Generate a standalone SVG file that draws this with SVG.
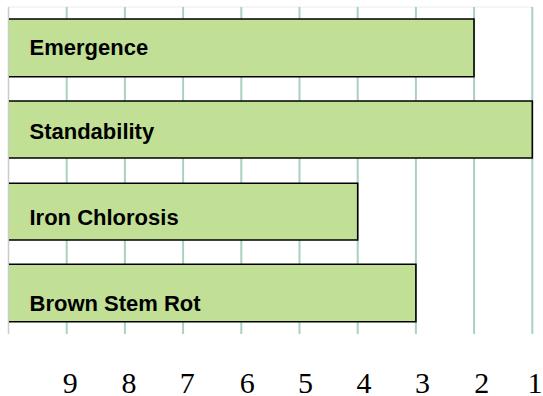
<svg xmlns="http://www.w3.org/2000/svg" width="543" height="396" viewBox="0 0 543 396">
<style>
.grid{stroke:#a9d2bd;stroke-width:2;fill:none}
.bar{fill:#c1e096}
.edge{fill:none;stroke:#000;stroke-width:1.6}
.lbl{font-family:"Liberation Sans",Arial,sans-serif;font-weight:bold;font-size:22px;fill:#000}
.num{font-family:"Liberation Serif","Times New Roman",serif;font-size:30px;fill:#000;text-anchor:middle}
</style>
<rect width="543" height="396" fill="#fff"/>
<g id="grid">
<line x1="8.5" y1="7" x2="533" y2="7" stroke="#e6efea" stroke-width="1"/>
<line x1="8.5" y1="7" x2="8.5" y2="334" stroke="#c8cccb" stroke-width="1.5"/>
<line class="grid" x1="66.7" y1="7" x2="66.7" y2="334"/>
<line class="grid" x1="124.9" y1="7" x2="124.9" y2="334"/>
<line class="grid" x1="183.1" y1="7" x2="183.1" y2="334"/>
<line class="grid" x1="241.3" y1="7" x2="241.3" y2="334"/>
<line class="grid" x1="299.5" y1="7" x2="299.5" y2="334"/>
<line class="grid" x1="357.7" y1="7" x2="357.7" y2="334"/>
<line class="grid" x1="415.9" y1="7" x2="415.9" y2="334"/>
<line class="grid" x1="474.1" y1="7" x2="474.1" y2="334"/>
<line class="grid" x1="532.3" y1="7" x2="532.3" y2="334"/>
</g>
<g id="bar-emergence">
<rect class="bar" x="9" y="19" width="465" height="57.7"/>
<polyline class="edge" points="9,19 474,19 474,76.7 9,76.7"/>
<text class="lbl" x="29.5" y="54.5">Emergence</text>
</g>
<g id="bar-standability">
<rect class="bar" x="9" y="101" width="523.3" height="57"/>
<polyline class="edge" points="9,101 532.3,101 532.3,158 9,158"/>
<text class="lbl" x="29.5" y="139">Standability</text>
</g>
<g id="bar-iron-chlorosis">
<rect class="bar" x="9" y="183.3" width="348.7" height="56.7"/>
<polyline class="edge" points="9,183.3 357.7,183.3 357.7,240 9,240"/>
<text class="lbl" x="29.5" y="225">Iron Chlorosis</text>
</g>
<g id="bar-brown-stem-rot">
<rect class="bar" x="9" y="264.3" width="406.9" height="57.4"/>
<polyline class="edge" points="9,264.3 415.9,264.3 415.9,321.7 9,321.7"/>
<text class="lbl" x="29.5" y="310.7">Brown Stem Rot</text>
</g>
<g id="axis-labels">
<text class="num" x="70.2" y="393">9</text>
<text class="num" x="129" y="393">8</text>
<text class="num" x="187.2" y="393">7</text>
<text class="num" x="247.2" y="393">6</text>
<text class="num" x="305.5" y="393">5</text>
<text class="num" x="364" y="393">4</text>
<text class="num" x="422.5" y="393">3</text>
<text class="num" x="481.7" y="393">2</text>
<text class="num" x="535" y="393">1</text>
</g>
</svg>
